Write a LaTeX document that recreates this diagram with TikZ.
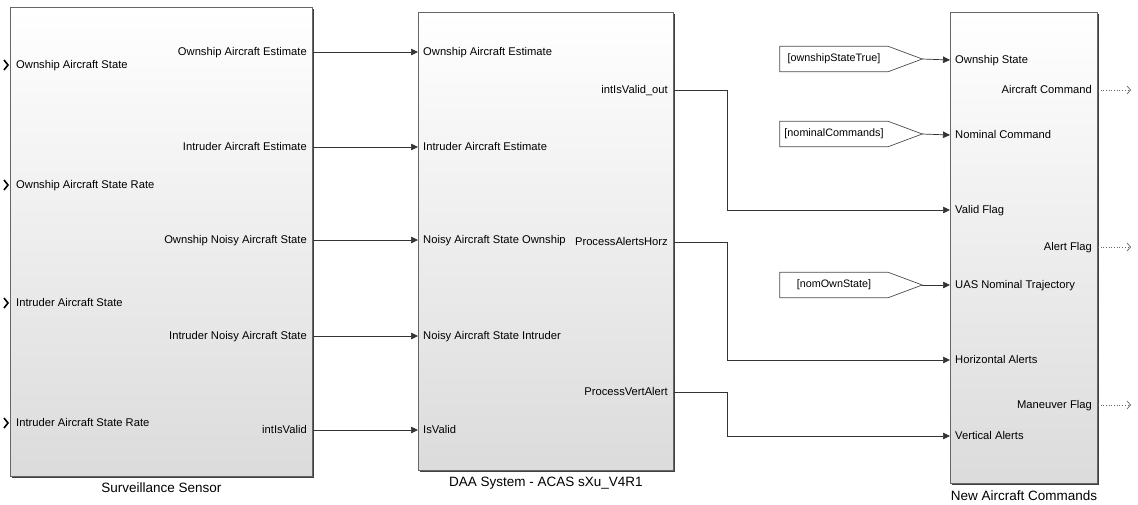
\documentclass[tikz,border=0pt]{standalone}
\usepackage{fontspec}
\setmainfont{Liberation Sans}
\usepackage{tikz}
\usetikzlibrary{positioning, arrows.meta, shadows}
\tikzstyle{block} = [rectangle, draw=black!60, line width=0.8pt, top color=white, middle color=black!2, bottom color=black!14, drop shadow={shadow xshift=1.3pt, shadow yshift=-1.3pt, fill=black!75, opacity=1}]
\tikzstyle{port} = [inner sep=0pt, text height=1.6ex, text depth=0.4ex, font=\fontsize{11.2}{13}\selectfont]
\tikzstyle{title} = [inner sep=0pt, font=\fontsize{13.5}{15}\selectfont]
\tikzstyle{tagtext} = [rectangle, inner sep=0pt, minimum width=108pt, minimum height=25pt, font=\fontsize{10.8}{12}\selectfont]
\tikzstyle{tagline} = [draw=black!70, line width=0.7pt]
\tikzstyle{wire} = [draw=black!80, line width=0.7pt]
\tikzstyle{arrow} = [wire, -{Triangle[length=7pt,width=6.5pt]}]
\tikzstyle{dotout} = [draw=black!60, line width=0.7pt, dotted, -{Straight Barb[length=3.5pt,width=8pt]}]
\tikzstyle{chevron} = [draw=black, line width=1.6pt]

\begin{document}
\begin{tikzpicture}[x=1pt, y=-1pt]
  \useasboundingbox (0,0) rectangle (1138,504);

  % Blocks
  \node (sensor) [block, minimum width=302pt, minimum height=469pt, anchor=north west] at (10,7) {};
  \node (daa) [block, minimum width=255pt, minimum height=458pt, anchor=north west] at (418,12) {};
  \node (newcmd) [block, minimum width=147pt, minimum height=471pt, anchor=north west] at (950,12) {};

  % Block names (below the blocks)
  \node (sensorName) [title, below=6pt of sensor] {Surveillance Sensor};
  \node (daaName) [title, below=6pt of daa] {DAA System - ACAS sXu\_V4R1};
  \node (newcmdName) [title, below=7pt of newcmd] {New Aircraft Commands};

  % Surveillance Sensor ports
  \node (sensorIn1) [port, anchor=west] at (16,65) {Ownship Aircraft State};
  \node (sensorIn2) [port, anchor=west] at (16,185) {Ownship Aircraft State Rate};
  \node (sensorIn3) [port, anchor=west] at (16,303) {Intruder Aircraft State};
  \node (sensorIn4) [port, anchor=west] at (16,423) {Intruder Aircraft State Rate};
  \node (sensorOut1) [port, anchor=east] at (307,52) {Ownship Aircraft Estimate};
  \node (sensorOut2) [port, anchor=east] at (307,147) {Intruder Aircraft Estimate};
  \node (sensorOut3) [port, anchor=east] at (307,240) {Ownship Noisy Aircraft State};
  \node (sensorOut4) [port, anchor=east] at (307,336) {Intruder Noisy Aircraft State};
  \node (sensorOut5) [port, anchor=east] at (307,430) {intIsValid};

  % DAA System ports
  \node (daaIn1) [port, anchor=west] at (423,52) {Ownship Aircraft Estimate};
  \node (daaIn2) [port, anchor=west] at (423,147) {Intruder Aircraft Estimate};
  \node (daaIn3) [port, anchor=west] at (423,240) {Noisy Aircraft State Ownship};
  \node (daaIn4) [port, anchor=west] at (423,336) {Noisy Aircraft State Intruder};
  \node (daaIn5) [port, anchor=west] at (423,430) {IsValid};
  \node (daaOut1) [port, anchor=east] at (668,90) {intIsValid\_out};
  \node (daaOut2) [port, anchor=east] at (668,242) {ProcessAlertsHorz};
  \node (daaOut3) [port, anchor=east] at (668,392) {ProcessVertAlert};

  % New Aircraft Commands ports
  \node (cmdIn1) [port, anchor=west] at (955,60) {Ownship State};
  \node (cmdIn2) [port, anchor=west] at (955,135) {Nominal Command};
  \node (cmdIn3) [port, anchor=west] at (955,210) {Valid Flag};
  \node (cmdIn4) [port, anchor=west] at (955,285) {UAS Nominal Trajectory};
  \node (cmdIn5) [port, anchor=west] at (955,360) {Horizontal Alerts};
  \node (cmdIn6) [port, anchor=west] at (955,436) {Vertical Alerts};
  \node (cmdOut1) [port, anchor=east] at (1092,90) {Aircraft Command};
  \node (cmdOut2) [port, anchor=east] at (1092,247) {Alert Flag};
  \node (cmdOut3) [port, anchor=east] at (1092,405) {Maneuver Flag};

  % From tags
  \node (tagOwn) [tagtext] at (834,59) {[ownshipStateTrue]};
  \node (tagNom) [tagtext] at (834,134) {[nominalCommands]};
  \node (tagTraj) [tagtext] at (834,285) {[nomOwnState]};
  \foreach \t in {tagOwn,tagNom,tagTraj} {
    \coordinate (\t Tip) at ([xshift=34pt]\t.east);
    \draw[tagline] (\t.north west) -- (\t.north east) -- (\t Tip) -- (\t.south east) -- (\t.south west) -- cycle;
  }

  % Inport marks
  \foreach \p in {sensorIn1,sensorIn2,sensorIn3,sensorIn4}
    \draw[chevron] ([xshift=-12pt,yshift=5pt]\p.west) -- ([xshift=-8pt]\p.west) -- ([xshift=-12pt,yshift=-5pt]\p.west);

  % Helper coordinates
  \coordinate (bend) at (727,0);
  \coordinate (outEnd) at (1131,0);

  % Arrows
  \foreach \i in {1,...,5}
    \draw[arrow] (sensorOut\i.east -| sensor.east) -- (daaIn\i.west -| daa.west);
  \draw[arrow] (daaOut1.east -| daa.east) -- (daaOut1 -| bend) -- (cmdIn3 -| bend) -- (cmdIn3.west -| newcmd.west);
  \draw[arrow] (daaOut2.east -| daa.east) -- (daaOut2 -| bend) -- (cmdIn5 -| bend) -- (cmdIn5.west -| newcmd.west);
  \draw[arrow] (daaOut3.east -| daa.east) -- (daaOut3 -| bend) -- (cmdIn6 -| bend) -- (cmdIn6.west -| newcmd.west);
  \draw[arrow] (tagOwnTip) -- (cmdIn1.west -| newcmd.west);
  \draw[arrow] (tagNomTip) -- (cmdIn2.west -| newcmd.west);
  \draw[arrow] (tagTrajTip) -- (cmdIn4.west -| newcmd.west);
  \foreach \i in {1,2,3}
    \draw[dotout] (cmdOut\i.east -| newcmd.east) -- (cmdOut\i -| outEnd);

\end{tikzpicture}
\end{document}
